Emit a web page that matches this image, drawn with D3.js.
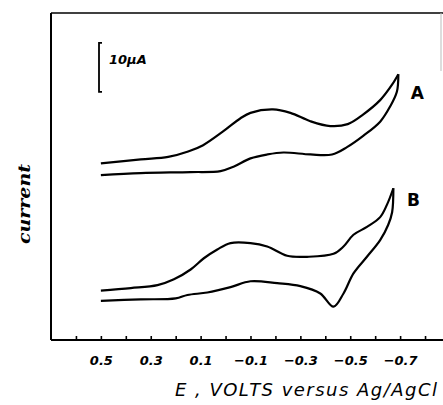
<!DOCTYPE html>
<html>
<head>
<meta charset="utf-8">
<script src="https://cdn.jsdelivr.net/npm/d3@7"></script>
<style>
	body { margin: 0; background: #fff; }
	svg { display: block; }
	.tick text { font-family: "DejaVu Sans", sans-serif; font-style: italic; font-weight: bold; font-size: 13px; }
</style>
</head>
<body>
<div class="cv-plot"></div>
<script>

// potentials in V, currents in microamps (zero = baseline of the frame)
const forwardA_E = [0.50, 0.34, 0.23, 0.15, 0.09, 0.01, -0.06, -0.10, -0.19, -0.26, -0.34, -0.42, -0.49, -0.55, -0.62, -0.667, -0.693];
const forwardA_I = [36.1, 36.9, 37.4, 38.5, 39.8, 42.6, 45.3, 46.4, 47.1, 46.4, 44.7, 43.7, 44.1, 46.0, 49.0, 52.1, 54.3];
const reverseA_E = [-0.693, -0.687, -0.66, -0.62, -0.552, -0.487, -0.427, -0.34, -0.232, -0.167, -0.10, -0.032, 0.02, 0.14, 0.34, 0.50];
const reverseA_I = [54.3, 50.7, 47.7, 44.6, 41.7, 39.4, 37.9, 37.9, 38.3, 37.9, 37.1, 35.4, 34.5, 34.3, 34.1, 33.7];

const forwardB_E = [0.50, 0.38, 0.273, 0.207, 0.14, 0.087, 0.033, -0.02, -0.10, -0.167, -0.247, -0.327, -0.433, -0.473, -0.513, -0.567, -0.62, -0.647, -0.673];
const forwardB_I = [10.1, 10.6, 11.2, 12.4, 14.4, 16.7, 18.5, 19.8, 19.8, 19.1, 17.2, 17.0, 17.6, 19.1, 21.5, 23.1, 25.1, 27.6, 31.0];
const reverseB_E = [-0.673, -0.668, -0.652, -0.62, -0.567, -0.513, -0.473, -0.433, -0.38, -0.30, -0.207, -0.10, -0.02, 0.073, 0.153, 0.20, 0.34, 0.50];
const reverseB_I = [31.0, 26.1, 23.5, 20.4, 17.0, 13.6, 9.5, 6.8, 9.5, 11.0, 11.6, 12.0, 10.8, 9.7, 9.2, 8.5, 8.3, 8.0];

const tickVals = [0.6, 0.5, 0.4, 0.3, 0.2, 0.1, 0, -0.1, -0.2, -0.3, -0.4, -0.5, -0.6, -0.7, -0.8];
const labelVals = [0.5, 0.3, 0.1, -0.1, -0.3, -0.5, -0.7];

const scaleBarFrom = 50.7; // 10 uA bar
const scaleBarSize = 10;

const width = 443;
const height = 405;

const x = d3.scaleLinear()
	.domain([0.7, -0.864])
	.range([51, 441]);

const y = d3.scaleLinear()
	.domain([0, 66.8])
	.range([340, 13]);

function zipPoints(es, is) {
	return es.map(function(e, i) {
		return [e, is[i]];
	});
}

const svg = d3.select('.cv-plot').append('svg')
	.attr('width', width)
	.attr('height', height);

// frame: top, left, faint right
svg.append('line')
	.attr('x1', x.range()[0]).attr('x2', width)
	.attr('y1', y.range()[1]).attr('y2', y.range()[1])
	.attr('stroke', '#000')
	.attr('stroke-width', 1.6);

svg.append('line')
	.attr('x1', x.range()[0]).attr('x2', x.range()[0])
	.attr('y1', y.range()[1]).attr('y2', y.range()[0])
	.attr('stroke', '#000')
	.attr('stroke-width', 2);

svg.append('line')
	.attr('x1', x.range()[1]).attr('x2', x.range()[1])
	.attr('y1', y.range()[1]).attr('y2', y.range()[1] + 58)
	.attr('stroke', '#bbb')
	.attr('stroke-width', 1);

const xAxis = d3.axisBottom(x)
	.tickValues(tickVals)
	.tickSizeInner(-4)
	.tickSizeOuter(0)
	.tickPadding(16)
	.tickFormat(function(d) {
		const hit = labelVals.some(function(v) { return Math.abs(v - d) < 1e-9; });
		return hit ? d3.format('.1f')(d) : '';
	});

const gx = svg.append('g')
	.attr('transform', `translate(0,${y(0)})`)
	.call(xAxis);

gx.select('.domain')
	.attr('d', `M${x.range()[0]},0H${width}`)
	.attr('stroke-width', 2);

gx.selectAll('.tick line')
	.attr('stroke-width', 1.6);

const line = d3.line()
	.x(function(d) { return x(d[0]); })
	.y(function(d) { return y(d[1]); })
	.curve(d3.curveCatmullRom.alpha(0.5));

const branches = [
	zipPoints(forwardA_E, forwardA_I),
	zipPoints(reverseA_E, reverseA_I),
	zipPoints(forwardB_E, forwardB_I),
	zipPoints(reverseB_E, reverseB_I)
];

svg.selectAll('.branch')
	.data(branches)
	.enter()
	.append('path')
	.attr('d', line)
	.attr('fill', 'none')
	.attr('stroke', '#000')
	.attr('stroke-width', 2.2)
	.attr('stroke-linejoin', 'round')
	.attr('class', 'branch');

// curve names next to the switching points
svg.append('text')
	.text('A')
	.attr('x', x(forwardA_E[forwardA_E.length - 1]) + 19)
	.attr('y', y(forwardA_I[forwardA_I.length - 1]) + 25)
	.attr('text-anchor', 'middle')
	.style('font-family', '"DejaVu Sans", sans-serif')
	.style('font-weight', 'bold')
	.style('font-size', '17px');

svg.append('text')
	.text('B')
	.attr('x', x(forwardB_E[forwardB_E.length - 1]) + 20)
	.attr('y', y(forwardB_I[forwardB_I.length - 1]) + 18)
	.attr('text-anchor', 'middle')
	.style('font-family', '"DejaVu Sans", sans-serif')
	.style('font-weight', 'bold')
	.style('font-size', '17px');

// 10 uA scale bar
const barX = 99;
svg.append('path')
	.attr('d', `M${barX + 3},${y(scaleBarFrom + scaleBarSize)}H${barX}V${y(scaleBarFrom)}H${barX + 3}`)
	.attr('fill', 'none')
	.attr('stroke', '#000')
	.attr('stroke-width', 1.8);

svg.append('text')
	.text('10µA')
	.attr('x', barX + 10)
	.attr('y', y(scaleBarFrom + scaleBarSize / 2) - 3)
	.style('font-family', '"DejaVu Sans", sans-serif')
	.style('font-style', 'italic')
	.style('font-weight', 'bold')
	.style('font-size', '13px');

// axis titles
svg.append('text')
	.text('current')
	.attr('transform', 'translate(30,204) rotate(-90)')
	.attr('text-anchor', 'middle')
	.attr('textLength', 80)
	.attr('lengthAdjust', 'spacingAndGlyphs')
	.style('font-family', '"DejaVu Serif", serif')
	.style('font-style', 'italic')
	.style('font-weight', 'bold')
	.style('font-size', '16px');

svg.append('text')
	.text('E , VOLTS  versus  Ag/AgCl')
	.attr('x', 175)
	.attr('y', 396)
	.attr('textLength', 262)
	.attr('lengthAdjust', 'spacing')
	.style('font-family', '"DejaVu Sans", sans-serif')
	.style('font-style', 'italic')
	.style('font-size', '18px');

</script>
</body>
</html>
